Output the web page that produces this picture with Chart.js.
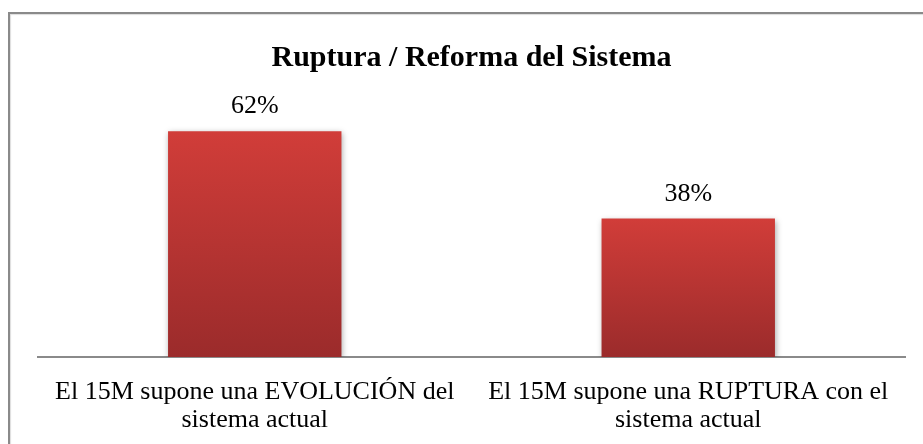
<!DOCTYPE html>
<html>
<head>
<meta charset="utf-8">
<script src="https://cdn.jsdelivr.net/npm/chart.js@4/dist/chart.umd.min.js"></script>
<style>
  html, body { margin: 0; padding: 0; background: #fff; }
  #wrap { position: relative; width: 923px; height: 444px; overflow: hidden; }
  #frame {
    position: absolute; left: 8px; top: 12px; width: 1000px; height: 600px;
    border-left: 2px solid #8a8a8a; border-top: 2px solid #8a8a8a;
    box-shadow: 1px 1px 1px #ddd inset;
  }
  canvas { position: absolute; left: 0; top: 0; }
</style>
</head>
<body>
<div id="wrap">
  <div id="frame"></div>
  <canvas id="chart" width="923" height="460"></canvas>
</div>
<script>
// Data
const categories = [
  ['El 15M supone una EVOLUCIÓN del', 'sistema actual'],
  ['El 15M supone una RUPTURA con el', 'sistema actual']
];
const values = [62, 38];
const valueLabels = ['62%', '38%'];

const serif = "'Liberation Serif', 'Times New Roman', serif";

// gradient for each bar, lighter on top and darker at the bottom
function barGradient(context) {
  const chart = context.chart;
  const area = chart.chartArea;
  if (!area || !chart.scales.y) return '#c0392f';
  const y = chart.scales.y;
  const top = y.getPixelForValue(context.raw);
  const bottom = y.getPixelForValue(0);
  const g = chart.ctx.createLinearGradient(0, top, 0, bottom);
  g.addColorStop(0, '#d13d39');
  g.addColorStop(1, '#9b2b2b');
  return g;
}

// shadow behind the bars
const shadowPlugin = {
  id: 'barShadow',
  beforeDatasetsDraw(chart) {
    const ctx = chart.ctx;
    ctx.save();
    ctx.shadowColor = 'rgba(0,0,0,0.35)';
    ctx.shadowBlur = 6;
    ctx.shadowOffsetX = 1;
    ctx.shadowOffsetY = 2;
  },
  afterDatasetsDraw(chart) {
    chart.ctx.restore();
  }
};

// value labels above the bars
const valueLabelPlugin = {
  id: 'valueLabels',
  afterDatasetsDraw(chart) {
    const ctx = chart.ctx;
    const meta = chart.getDatasetMeta(0);
    ctx.save();
    ctx.font = '26px ' + serif;
    ctx.fillStyle = '#000';
    ctx.textAlign = 'center';
    ctx.textBaseline = 'alphabetic';
    meta.data.forEach((bar, i) => {
      ctx.fillText(valueLabels[i], bar.x, bar.y - 18);
    });
    ctx.restore();
  }
};

new Chart(document.getElementById('chart'), {
  type: 'bar',
  data: {
    labels: categories,
    datasets: [{
      data: values,
      backgroundColor: barGradient,
      borderWidth: 0,
      barPercentage: 0.4,
      categoryPercentage: 1
    }]
  },
  options: {
    responsive: false,
    animation: false,
    events: [],
    layout: { padding: { top: 24, left: 38, right: 18, bottom: 5 } },
    plugins: {
      legend: { display: false },
      tooltip: { enabled: false },
      title: {
        display: true,
        text: 'Ruptura / Reforma del Sistema',
        color: '#000',
        font: { family: serif, size: 30, weight: 'bold', lineHeight: 1.2 },
        padding: { top: 16, bottom: 26 }
      }
    },
    scales: {
      x: {
        grid: { display: false, drawTicks: false },
        border: { display: true, color: '#8a8a8a', width: 2 },
        ticks: {
          color: '#000',
          padding: 21,
          font: { family: serif, size: 26, lineHeight: 1.077 }
        }
      },
      y: {
        display: false,
        min: 0,
        max: 70
      }
    }
  },
  plugins: [shadowPlugin, valueLabelPlugin]
});
</script>
</body>
</html>
